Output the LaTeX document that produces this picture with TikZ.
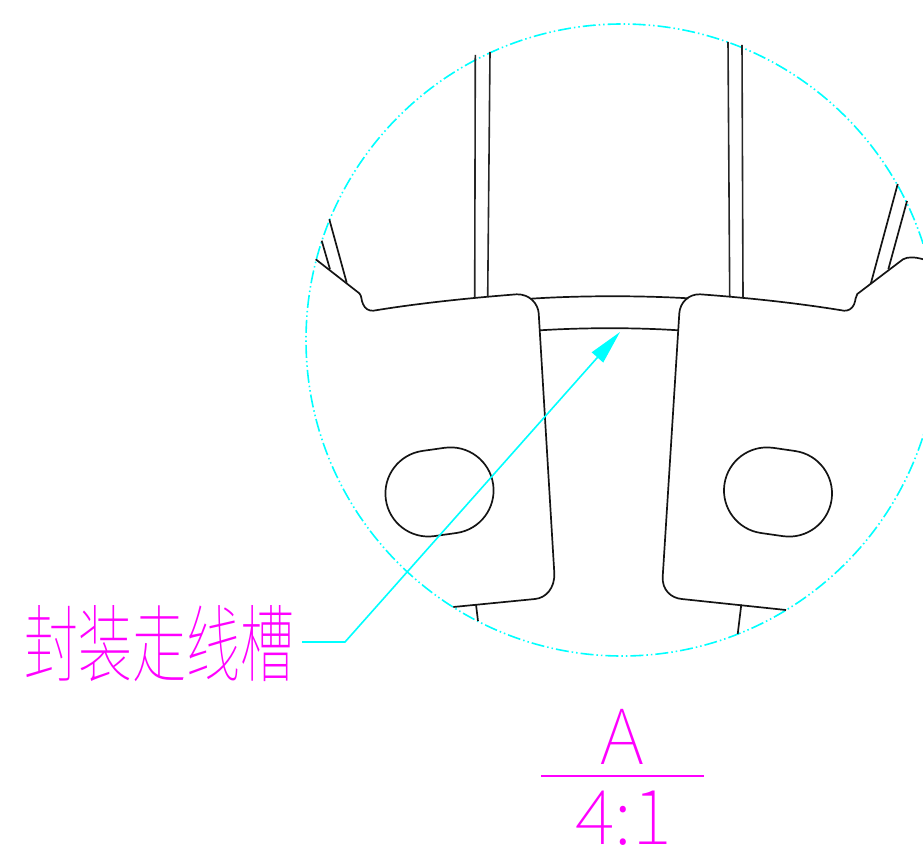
\documentclass[tikz,border=0pt]{standalone}
\usepackage{fontspec}
\usetikzlibrary{arrows.meta}
\newfontfamily\cjkthin{Noto Sans CJK SC Thin}
\definecolor{cadcyan}{RGB}{0,255,255}
\definecolor{cadmag}{RGB}{255,0,255}
\tikzset{
  part/.style={draw=black!92,line width=1.7pt,line join=round},
  thinpart/.style={draw=black!85,line width=1.6pt},
  cyanline/.style={draw=cadcyan,line width=1.6pt},
  detail/.style={draw=cadcyan,line width=1.6pt,dash pattern=on 13pt off 3pt on 1.5pt off 3pt on 1.5pt off 3pt},
  magtext/.style={text=cadmag,inner sep=0pt,font=\cjkthin},
}
\begin{document}
\begin{tikzpicture}[x=1pt,y=1pt,yscale=-1]
\useasboundingbox (0,0) rectangle (923,850);
% detail circle
\draw[detail] (622,340) circle[radius=316pt];
% left part
\draw[part] (315.7,259.3) -- (359.3,293.3) .. controls (362,296) and (361,300) .. (363,304) .. controls (365,309) and (369,311) .. (373.3,310.7)
  .. controls (420,303) and (470,298) .. (516.7,294.3) .. controls (530,294) and (538,304) .. (538.7,313.3)
  -- (554.3,573) .. controls (555,588) and (546,598) .. (535,599) -- (453.3,607);
\draw[part] (476,604.5) -- (478,621);
\draw[part] (321.7,240.7) -- (330,269.3);
\draw[part] (329.3,219.3) -- (346.7,282.7);
\draw[thinpart] (475.3,55) -- (474.7,297.3);
\draw[thinpart] (490,52) -- (487.7,296.7);
% groove
\draw[part] (530.7,298.7) .. controls (580,295.5) and (640,295.5) .. (688.3,298.3);
\draw[part] (540,330.3) .. controls (585,327.5) and (635,327.5) .. (678.3,330.3);
% right part
\draw[part] (923.3,259.3) .. controls (915,257) and (908,256.5) .. (903,259.3)
  -- (857.3,294) .. controls (855,297) and (856,300) .. (854,304.5) .. controls (852,309) and (848,311) .. (844,310.7)
  .. controls (797,303) and (750,298) .. (700,294.3) .. controls (688,294) and (680,303) .. (679.3,313.3)
  -- (662.7,576.7) .. controls (662,590) and (671,598) .. (681.7,599) -- (786,610);
\draw[part] (741.3,604.5) -- (737.7,634);
\draw[part] (897.7,184) -- (870.7,284);
\draw[part] (907,201) -- (888.3,269.3);
\draw[thinpart] (728,42) -- (729.7,296);
\draw[thinpart] (742,45) -- (743,297.3);
% slots
\draw[part] (422.6,450.9) -- (444.6,447.8) arc[start angle=-98,end angle=82,radius=43pt] -- (434.4,536.1) arc[start angle=82,end angle=262,radius=43pt] -- cycle;
\draw[part] (773,447.8) -- (795,451) arc[start angle=-82,end angle=98,radius=43pt] -- (761,533) arc[start angle=98,end angle=278,radius=43pt] -- cycle;
% label + leader
\node[magtext,anchor=center] (label) at (159,644) {\scalebox{1}[1.56]{\fontsize{54}{54}\selectfont 封装走线槽}};
\coordinate (elbow) at (345,642);
\coordinate (tip) at (620,332);
\coordinate (lstart) at (302,642);
\draw[cyanline,-{Triangle[length=34pt,width=15pt]}] (lstart) -- (elbow) -- (tip);
% view title
\node[magtext,anchor=center] (titleA) at (622,737) {\fontsize{76}{76}\selectfont A};
\coordinate (ruleL) at (541,776);
\coordinate (ruleR) at (703.5,776);
\draw[draw=cadmag,line width=1.5pt] (ruleL) -- (ruleR);
\node[magtext,anchor=center] (scale) at (623.5,818) {\fontsize{76}{76}\selectfont 4:1};
\end{tikzpicture}
\end{document}
